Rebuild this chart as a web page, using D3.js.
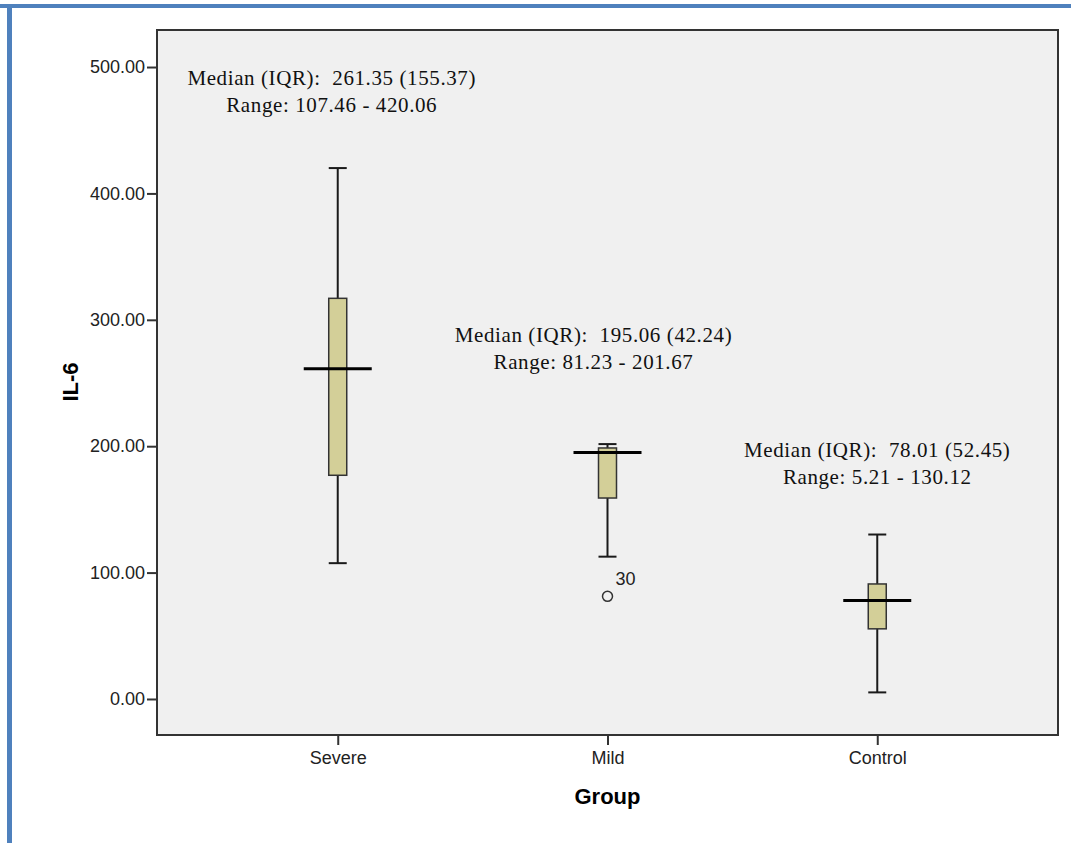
<!DOCTYPE html>
<html>
<head>
<meta charset="utf-8">
<script src="https://cdn.jsdelivr.net/npm/d3@7"></script>
<style>
  html, body { margin: 0; padding: 0; background: #fff; }
  svg { display: block; }
</style>
</head>
<body>
<div id="chart"></div>
<script>
// Data
const groups = ['Severe', 'Mild', 'Control'];
const whiskerLow = [107.46, 112.6, 5.21];
const q1Values = [177, 159, 55.5];
const medians = [261.35, 195.06, 78.01];
const q3Values = [317, 198.6, 91];
const whiskerHigh = [420.06, 201.67, 130.12];
const outliers = [{ group: 'Mild', value: 81.23, label: '30' }];
const yTicks = [0, 100, 200, 300, 400, 500];
const noteLines = [
  ['Median (IQR):  261.35 (155.37)', 'Range: 107.46 - 420.06'],
  ['Median (IQR):  195.06 (42.24)', 'Range: 81.23 - 201.67'],
  ['Median (IQR):  78.01 (52.45)', 'Range: 5.21 - 130.12']
];
const noteAnchor = [485.7, 282.4, 191.4]; // data value for first line baseline

const width = 1071;
const height = 843;
const plot = { left: 157, right: 1058, top: 30, bottom: 735 };
const sans = 'Arial, "Liberation Sans", sans-serif';

const svg = d3.select('#chart')
  .append('svg')
  .attr('width', width)
  .attr('height', height);

// Outer blue frame (only top and left visible)
svg.append('rect')
  .attr('x', 0).attr('y', 4).attr('width', width).attr('height', 4)
  .attr('fill', '#4f81bd');
svg.append('rect')
  .attr('x', 7).attr('y', 4).attr('width', 5).attr('height', height)
  .attr('fill', '#4f81bd');

const x = d3.scalePoint()
  .domain(groups)
  .range([plot.left, plot.right])
  .padding(0.67);

const y = d3.scaleLinear()
  .domain([-28.5, 529.3])
  .range([plot.bottom, plot.top]);

// Plot background
svg.append('rect')
  .attr('x', plot.left)
  .attr('y', plot.top)
  .attr('width', plot.right - plot.left)
  .attr('height', plot.bottom - plot.top)
  .attr('fill', '#f0f0f0')
  .attr('stroke', '#333')
  .attr('stroke-width', 2);

// Axes
const yAxis = svg.append('g')
  .attr('transform', `translate(${plot.left},0)`)
  .call(d3.axisLeft(y).tickValues(yTicks).tickFormat(d3.format('.2f')).tickSize(10).tickPadding(2));
yAxis.select('.domain').remove();
yAxis.selectAll('line').attr('stroke', '#333').attr('stroke-width', 2);
yAxis.attr('font-size', null).attr('font-family', null);
yAxis.selectAll('text')
  .attr('fill', '#222')
  .attr('font-family', sans)
  .attr('font-size', 18);

const xAxis = svg.append('g')
  .attr('transform', `translate(0,${plot.bottom})`)
  .call(d3.axisBottom(x).tickSize(10).tickPadding(6));
xAxis.select('.domain').remove();
xAxis.selectAll('line').attr('stroke', '#333').attr('stroke-width', 2);
xAxis.attr('font-size', null).attr('font-family', null);
xAxis.selectAll('text')
  .attr('fill', '#222')
  .attr('font-family', sans)
  .attr('font-size', 18);

// Axis titles
svg.append('text')
  .attr('x', (plot.left + plot.right) / 2)
  .attr('y', 804)
  .attr('text-anchor', 'middle')
  .attr('font-family', sans)
  .attr('font-size', 22)
  .attr('font-weight', 'bold')
  .text('Group');

svg.append('text')
  .attr('transform', 'translate(78,382) rotate(-90)')
  .attr('text-anchor', 'middle')
  .attr('font-family', sans)
  .attr('font-size', 22)
  .attr('font-weight', 'bold')
  .text('IL-6');

// Boxes
const boxW = 18;
const capW = 18;
const medW = 68;

const boxes = groups.map((g, i) => ({
  g, lo: whiskerLow[i], q1: q1Values[i], med: medians[i], q3: q3Values[i], hi: whiskerHigh[i]
}));

const bg = svg.selectAll('.box')
  .data(boxes)
  .enter()
  .append('g')
  .attr('class', 'box');

// whiskers
bg.append('line')
  .attr('x1', d => x(d.g)).attr('x2', d => x(d.g))
  .attr('y1', d => y(d.hi)).attr('y2', d => y(d.q3))
  .attr('stroke', '#1a1a1a').attr('stroke-width', 2);
bg.append('line')
  .attr('x1', d => x(d.g)).attr('x2', d => x(d.g))
  .attr('y1', d => y(d.q1)).attr('y2', d => y(d.lo))
  .attr('stroke', '#1a1a1a').attr('stroke-width', 2);
// caps
bg.append('line')
  .attr('x1', d => x(d.g) - capW / 2).attr('x2', d => x(d.g) + capW / 2)
  .attr('y1', d => y(d.hi)).attr('y2', d => y(d.hi))
  .attr('stroke', '#1a1a1a').attr('stroke-width', 2);
bg.append('line')
  .attr('x1', d => x(d.g) - capW / 2).attr('x2', d => x(d.g) + capW / 2)
  .attr('y1', d => y(d.lo)).attr('y2', d => y(d.lo))
  .attr('stroke', '#1a1a1a').attr('stroke-width', 2);
// box
bg.append('rect')
  .attr('x', d => x(d.g) - boxW / 2)
  .attr('y', d => y(d.q3))
  .attr('width', boxW)
  .attr('height', d => y(d.q1) - y(d.q3))
  .attr('fill', '#d3cf98')
  .attr('stroke', '#333')
  .attr('stroke-width', 1.5);
// median
bg.append('line')
  .attr('x1', d => x(d.g) - medW / 2).attr('x2', d => x(d.g) + medW / 2)
  .attr('y1', d => y(d.med)).attr('y2', d => y(d.med))
  .attr('stroke', '#000').attr('stroke-width', 3);

// Outliers
svg.selectAll('.outlier')
  .data(outliers)
  .enter()
  .append('circle')
  .attr('class', 'outlier')
  .attr('cx', d => x(d.group))
  .attr('cy', d => y(d.value))
  .attr('r', 5)
  .attr('fill', 'none')
  .attr('stroke', '#333')
  .attr('stroke-width', 1.5);

svg.selectAll('.outlier-label')
  .data(outliers)
  .enter()
  .append('text')
  .attr('x', d => x(d.group) + 8)
  .attr('y', d => y(d.value) - 11)
  .attr('font-family', sans)
  .attr('font-size', 18)
  .attr('fill', '#222')
  .text(d => d.label);

// Annotations
const notes = svg.selectAll('.note')
  .data(groups)
  .enter()
  .append('text')
  .attr('class', 'note')
  .attr('text-anchor', 'middle')
  .attr('font-family', '"Times New Roman", "Liberation Serif", serif')
  .attr('font-size', 21)
  .attr('letter-spacing', 0.6)
  .style('white-space', 'pre')
  .attr('fill', '#111');

notes.selectAll('tspan')
  .data((g, i) => noteLines[i].map(t => ({ t, g, i })))
  .enter()
  .append('tspan')
  .attr('x', d => x(d.g) - [6, 14, 0][d.i])
  .attr('y', (d, j) => y(noteAnchor[d.i]) + j * 27)
  .text(d => d.t);
</script>
</body>
</html>
